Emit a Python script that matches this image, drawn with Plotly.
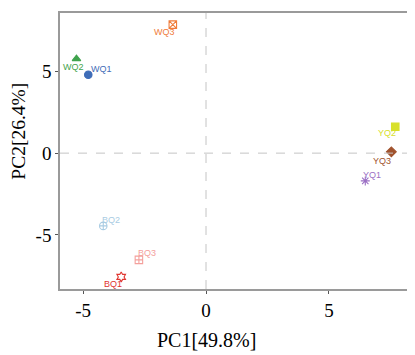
import plotly.graph_objects as go

samples = ["WQ1", "WQ2", "WQ3", "BQ2", "BQ3", "BQ1", "YQ2", "YQ3", "YQ1"]
pc1 = [-4.79, -5.27, -1.35, -4.18, -2.73, -3.45, 7.70, 7.54, 6.48]
pc2 = [4.79, 5.77, 7.86, -4.45, -6.53, -7.57, 1.61, 0.08, -1.70]
colors = ["#3F6DB8", "#3FA34D", "#F07C3A", "#A9CCE3", "#F4A09C", "#E0352F",
          "#D8E02A", "#A0522D", "#9B6FC4"]
symbols = ["circle", "triangle-up", "square-x-open", "circle-cross-open",
           "square-cross-open", "hexagram-open", "square", "diamond", "asterisk-open"]
label_dx = [13, -3, -8, 8, 8, -8, -8, -9, 7]
label_dy = [6, -8, -7, 6, 7, -7, -6, -9, 6]
tick_vals = [-5, 0, 5]
tick_text = ["-5", "0", "5"]

fig = go.Figure()
for i, s in enumerate(samples):
    fig.add_trace(go.Scatter(
        x=[pc1[i]], y=[pc2[i]], mode="markers", name=s,
        marker=dict(symbol=symbols[i], color=colors[i], size=7.5,
                    line=dict(color=colors[i], width=1.1)),
        showlegend=False))
    fig.add_annotation(x=pc1[i], y=pc2[i], text=s, showarrow=False,
                       xshift=label_dx[i], yshift=label_dy[i],
                       font=dict(family="Liberation Sans", size=9, color=colors[i]))

fig.add_hline(y=0, line=dict(color="#c4c4c4", width=1, dash="dash"))
fig.add_vline(x=0, line=dict(color="#c4c4c4", width=1, dash="dash"))
fig.add_shape(type="line", xref="paper", yref="paper", x0=1, x1=1, y0=0, y1=1,
              line=dict(color="#222", width=2))

axis_common = dict(showgrid=False, zeroline=False, showline=True, linecolor="#9a9a9a",
                   linewidth=1.5, mirror=True, ticks="outside", ticklen=3,
                   tickcolor="#555", tickvals=tick_vals, ticktext=tick_text,
                   tickfont=dict(family="Liberation Serif", size=19, color="black"))
fig.update_xaxes(range=[-5.94, 8.34], **axis_common)
fig.update_yaxes(range=[-8.31, 8.57], **axis_common)

fig.add_annotation(text="PC1[49.8%]", xref="paper", yref="paper", x=0.417, y=-0.185,
                   showarrow=False, xanchor="center", yanchor="middle",
                   font=dict(family="Liberation Serif", size=20, color="black"))
fig.add_annotation(text="PC2[26.4%]", xref="paper", yref="paper", x=-0.118, y=0.572,
                   showarrow=False, xanchor="center", yanchor="middle", textangle=-90,
                   font=dict(family="Liberation Serif", size=19.5, color="black"))

fig.update_layout(width=407, height=347, plot_bgcolor="white", paper_bgcolor="white",
                  margin=dict(l=51.5, r=2, t=5, b=66))
fig.write_html("out.html")
